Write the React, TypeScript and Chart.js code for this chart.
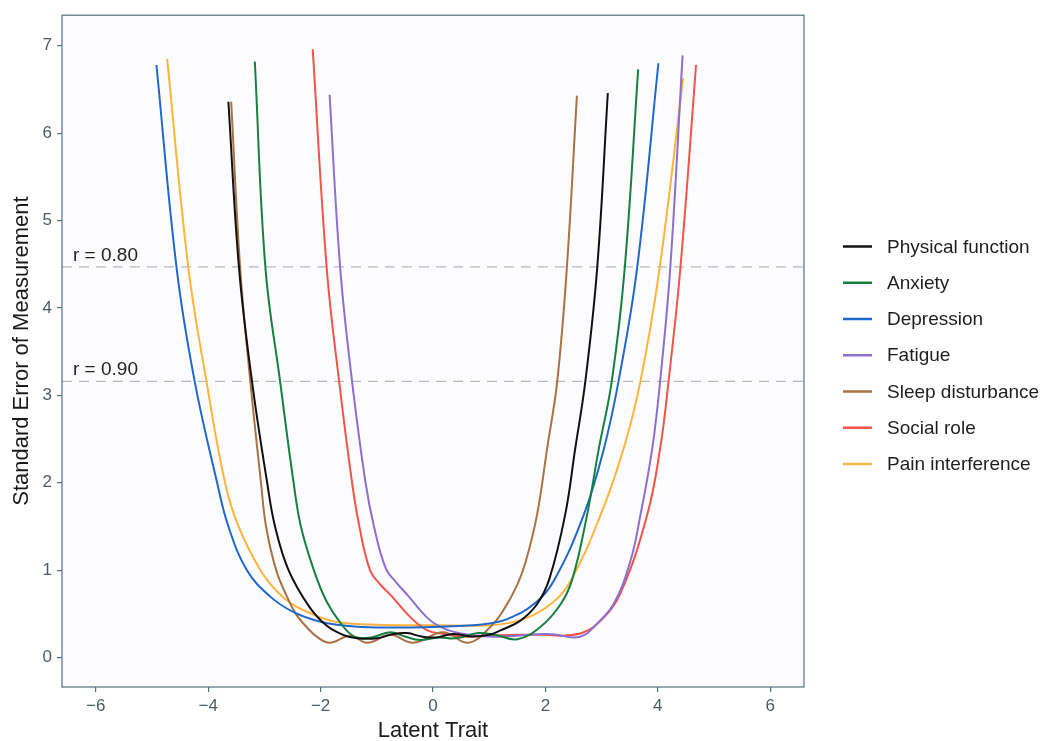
import React, { useEffect, useRef } from "react";
import { Chart, registerables } from "chart.js";

Chart.register(...registerables);

// ---- Data (Latent Trait, SEM) ----
const seriesNames = [
  "Physical function",
  "Anxiety",
  "Depression",
  "Fatigue",
  "Sleep disturbance",
  "Social role",
  "Pain interference",
];

const seriesColors = ["#111111", "#168040", "#2068cc", "#8b6fd1", "#a97244", "#f2544a", "#fdb43c"];

const physicalFunction = [
  [-3.64, 6.36], [-3.45, 4.45], [-3.22, 3.16], [-2.95, 2.0], [-2.81, 1.5], [-2.57, 1.0],
  [-2.2, 0.58], [-1.9, 0.37], [-1.6, 0.26], [-1.35, 0.22], [-1.0, 0.22], [-0.7, 0.27],
  [-0.46, 0.28], [-0.2, 0.24], [0.05, 0.23], [0.36, 0.27], [0.7, 0.24], [1.0, 0.26],
  [1.2, 0.31], [1.55, 0.42], [1.85, 0.61], [2.07, 0.9], [2.35, 1.63], [2.53, 2.39],
  [2.71, 3.16], [2.92, 4.45], [3.11, 6.46],
];

const anxiety = [
  [-3.17, 6.82], [-2.98, 4.45], [-2.72, 3.16], [-2.48, 2.0], [-2.35, 1.5], [-2.12, 1.0],
  [-1.9, 0.65], [-1.65, 0.4], [-1.4, 0.24], [-1.1, 0.23], [-0.76, 0.29], [-0.5, 0.24],
  [-0.23, 0.2], [0.1, 0.23], [0.4, 0.22], [0.8, 0.28], [1.1, 0.26], [1.5, 0.21],
  [1.91, 0.35], [2.27, 0.61], [2.48, 0.9], [2.74, 1.63], [2.95, 2.39], [3.18, 3.16],
  [3.41, 4.45], [3.65, 6.73],
];

const depression = [
  [-4.92, 6.78], [-4.56, 4.45], [-4.24, 3.16], [-3.84, 2.0], [-3.64, 1.5], [-3.31, 1.0],
  [-2.9, 0.7], [-2.48, 0.52], [-2.0, 0.41], [-1.5, 0.36], [-1.0, 0.345], [0.0, 0.35],
  [0.72, 0.37], [1.0, 0.39], [1.32, 0.44], [1.79, 0.61], [2.15, 0.88], [2.68, 1.63],
  [3.04, 2.39], [3.3, 3.16], [3.63, 4.45], [4.01, 6.8],
];

const fatigue = [
  [-1.84, 6.44], [-1.65, 4.45], [-1.44, 3.16], [-1.2, 2.0], [-1.05, 1.5], [-0.84, 1.02],
  [-0.64, 0.85], [-0.46, 0.72], [-0.11, 0.46], [0.13, 0.35], [0.45, 0.28], [1.0, 0.24],
  [1.5, 0.25], [2.0, 0.27], [2.2, 0.26], [2.5, 0.23], [2.7, 0.26], [2.86, 0.35],
  [3.21, 0.61], [3.51, 1.1], [3.69, 1.63], [3.9, 2.39], [4.04, 3.16], [4.22, 4.45], [4.44, 6.89],
];

const sleepDisturbance = [
  [-3.59, 6.36], [-3.43, 4.45], [-3.25, 3.16], [-3.06, 2.0], [-2.97, 1.5], [-2.79, 1.0],
  [-2.6, 0.7], [-2.44, 0.5], [-2.25, 0.35], [-2.05, 0.23], [-1.83, 0.17], [-1.47, 0.25],
  [-1.17, 0.17], [-0.76, 0.26], [-0.35, 0.17], [0.18, 0.29], [0.63, 0.17], [1.02, 0.35],
  [1.25, 0.54], [1.49, 0.82], [1.65, 1.1], [1.85, 1.63], [2.03, 2.39], [2.21, 3.16],
  [2.38, 4.45], [2.56, 6.43],
];

const socialRole = [
  [-2.14, 6.96], [-1.89, 4.45], [-1.67, 3.16], [-1.44, 2.0], [-1.31, 1.5], [-1.12, 1.0],
  [-0.93, 0.83], [-0.76, 0.72], [-0.4, 0.46], [-0.1, 0.31], [0.19, 0.27], [0.54, 0.24],
  [1.0, 0.25], [1.5, 0.26], [2.0, 0.26], [2.3, 0.25], [2.68, 0.29], [2.98, 0.42],
  [3.33, 0.73], [3.81, 1.63], [4.04, 2.39], [4.19, 3.16], [4.4, 4.45], [4.68, 6.78],
];

const painInterference = [
  [-4.73, 6.85], [-4.35, 4.45], [-4.03, 3.16], [-3.7, 2.0], [-3.46, 1.5], [-3.07, 1.0],
  [-2.75, 0.74], [-2.48, 0.6], [-2.0, 0.46], [-1.65, 0.4], [-1.0, 0.375], [0.0, 0.37],
  [1.02, 0.37], [1.61, 0.44], [2.09, 0.61], [2.45, 0.88], [2.98, 1.63], [3.39, 2.39],
  [3.69, 3.16], [4.03, 4.45], [4.45, 6.63],
];

const seriesData = [physicalFunction, anxiety, depression, fatigue, sleepDisturbance, socialRole, painInterference];

const refValues = [4.47, 3.16];
const refLabels = ["r = 0.80", "r = 0.90"];

const xTicks = [-6, -4, -2, 0, 2, 4, 6];
const yTicks = [0, 1, 2, 3, 4, 5, 6, 7];

const FONT = "'Liberation Sans', Arial, Helvetica, sans-serif";
const AXIS_COLOR = "#54707a";
const TICK_TEXT = "#4f5a60";

const panelPlugin = {
  id: "panelPlugin",
  beforeDatasetsDraw(chart: any) {
    const { ctx, chartArea: a, scales } = chart;
    ctx.save();
    ctx.fillStyle = "#fcfcfe";
    ctx.fillRect(a.left, a.top, a.right - a.left, a.bottom - a.top);
    refValues.forEach((v, i) => {
      const y = scales.y.getPixelForValue(v);
      ctx.strokeStyle = "#b2bac0";
      ctx.lineWidth = 1.3;
      ctx.setLineDash([10, 7]);
      ctx.beginPath();
      ctx.moveTo(a.left, y);
      ctx.lineTo(a.right, y);
      ctx.stroke();
      ctx.setLineDash([]);
      ctx.fillStyle = "#222222";
      ctx.font = `19px ${FONT}`;
      ctx.textAlign = "left";
      ctx.textBaseline = "alphabetic";
      ctx.fillText(refLabels[i], a.left + 11, y - 6);
    });
    ctx.restore();
  },
  afterDraw(chart: any) {
    const { ctx, chartArea: a } = chart;
    ctx.save();
    ctx.strokeStyle = AXIS_COLOR;
    ctx.lineWidth = 1.2;
    ctx.strokeRect(a.left, a.top, a.right - a.left, a.bottom - a.top);
    const x0 = a.right + 39;
    const y0 = 246.5;
    const step = 36.25;
    ctx.font = `19px ${FONT}`;
    ctx.textAlign = "left";
    ctx.textBaseline = "middle";
    seriesNames.forEach((name, i) => {
      const y = y0 + i * step;
      ctx.strokeStyle = seriesColors[i];
      ctx.lineWidth = 2.5;
      ctx.beginPath();
      ctx.moveTo(x0, y);
      ctx.lineTo(x0 + 29, y);
      ctx.stroke();
      ctx.fillStyle = "#1e1e1e";
      ctx.fillText(name, x0 + 44, y + 1);
    });
    ctx.restore();
  },
};

const fmt = (v: number) => (v < 0 ? "\u2212" + Math.abs(v) : String(v));

export default function App() {
  const ref = useRef<HTMLCanvasElement | null>(null);
  useEffect(() => {
    if (!ref.current) return;
    const chart = new Chart(ref.current, {
      type: "scatter",
      data: {
        datasets: seriesNames.map((name, i) => ({
          label: name,
          data: seriesData[i].map(([x, y]) => ({ x, y })),
          showLine: true,
          borderColor: seriesColors[i],
          backgroundColor: seriesColors[i],
          borderWidth: 2,
          pointRadius: 0,
          pointHoverRadius: 0,
          tension: 0.4,
          fill: false,
        })),
      },
      options: {
        responsive: false,
        animation: false,
        layout: { padding: { left: 0, right: 236, top: 10, bottom: 0 } },
        plugins: { legend: { display: false }, tooltip: { enabled: false } },
        scales: {
          x: {
            type: "linear",
            min: -6.6,
            max: 6.6,
            afterBuildTicks: (s: any) => {
              s.ticks = xTicks.map((v) => ({ value: v }));
            },
            afterFit: (s: any) => {
              s.height = 54;
            },
            grid: { display: true, drawOnChartArea: false, drawTicks: true, tickLength: 5, color: AXIS_COLOR, lineWidth: 1.2 },
            border: { display: false },
            ticks: {
              padding: 4,
              color: TICK_TEXT,
              font: { family: FONT, size: 17 },
              callback: (v: any) => fmt(Number(v)),
              maxRotation: 0,
            },
            title: {
              display: true,
              text: "Latent Trait",
              color: "#1a1a1a",
              font: { family: FONT, size: 22, lineHeight: 0.9 },
              padding: { top: 0, bottom: 0 },
            },
          },
          y: {
            type: "linear",
            min: -0.337,
            max: 7.35,
            afterBuildTicks: (s: any) => {
              s.ticks = yTicks.map((v) => ({ value: v }));
            },
            afterFit: (s: any) => {
              s.width = 62;
            },
            grid: { display: true, drawOnChartArea: false, drawTicks: true, tickLength: 5, color: AXIS_COLOR, lineWidth: 1.2 },
            border: { display: false },
            ticks: {
              padding: 5,
              color: TICK_TEXT,
              font: { family: FONT, size: 17 },
              callback: (v: any) => fmt(Number(v)),
            },
            title: {
              display: true,
              text: "Standard Error of Measurement",
              color: "#1a1a1a",
              font: { family: FONT, size: 22, lineHeight: 1 },
              padding: { top: 11, bottom: 0 },
            },
          },
        },
      },
      plugins: [panelPlugin],
    });
    return () => chart.destroy();
  }, []);

  return (
    <div style={{ position: "absolute", left: 0, top: 0, width: 1040, height: 741, background: "#ffffff" }}>
      <canvas ref={ref} width={1040} height={741} style={{ display: "block" }} />
    </div>
  );
}
